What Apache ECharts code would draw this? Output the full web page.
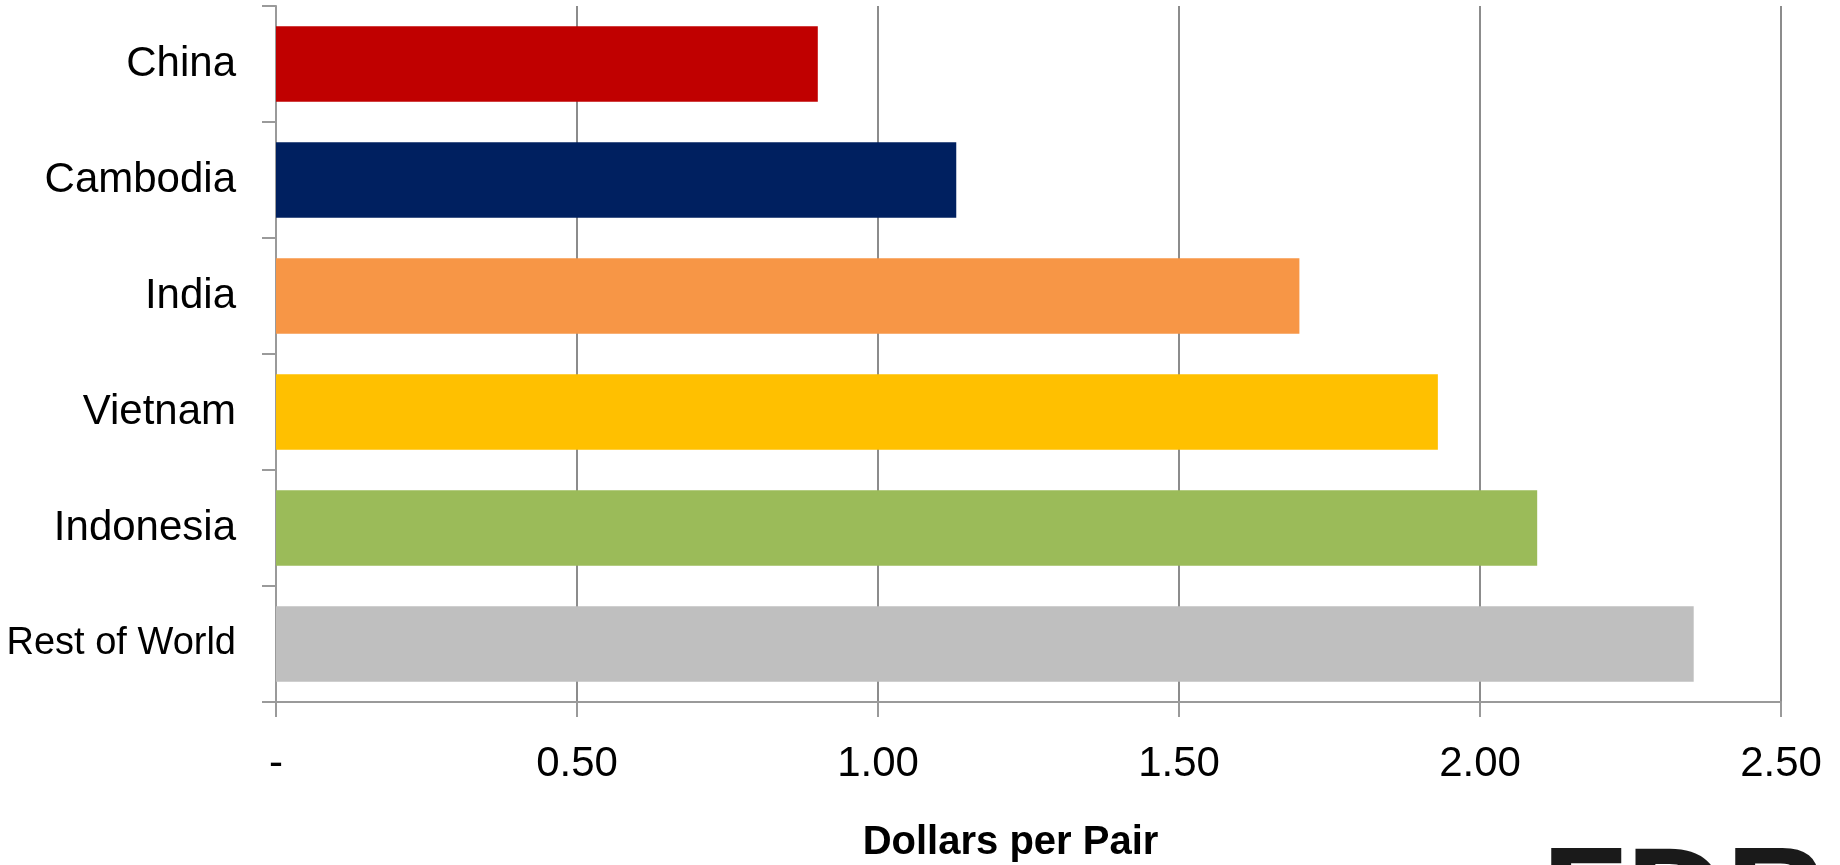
<!DOCTYPE html>
<html>
<head>
<meta charset="utf-8">
<title>Dollars per Pair</title>
<script src="https://cdn.jsdelivr.net/npm/echarts@6/dist/echarts.min.js"></script>
<style>
  html, body { margin: 0; padding: 0; background: #fff; }
  #chart { width: 1840px; height: 865px; }
</style>
</head>
<body>
<div id="chart"></div>
<script>
// data
const countries = ['China', 'Cambodia', 'India', 'Vietnam', 'Indonesia', 'Rest of World']
const dollarsPerPair = [0.90, 1.13, 1.70, 1.93, 2.095, 2.355]
const xTicks = [0, 0.5, 1.0, 1.5, 2.0, 2.5]

const barColors = ['#C00000', '#002060', '#F79646', '#FFC000', '#9BBB59', '#BFBFBF']
const FONT = '"Liberation Sans Narrow", "Liberation Sans", Arial, sans-serif'

const chart = echarts.init(document.getElementById('chart'))

// the long label is squeezed a bit so it stays on the canvas
const yLabels = countries.map(c => c.length > 10 ? { value: c, textStyle: { fontSize: 38 } } : c)

chart.setOption({
  animation: false,
  grid: { left: 276, right: 59, top: 6, bottom: 163, outerBoundsMode: 'none', containLabel: false },
  xAxis: {
    type: 'value',
    min: xTicks[0],
    max: xTicks[xTicks.length - 1],
    interval: xTicks[1] - xTicks[0],
    name: 'Dollars per Pair',
    nameLocation: 'middle',
    nameGap: 121,
    nameTextStyle: {
      fontFamily: FONT, fontSize: 40, fontWeight: 'bold', color: '#000',
      padding: [0, 36, 0, 0]
    },
    axisLine: { show: true, lineStyle: { color: '#9a9a9a', width: 2 } },
    axisTick: { show: true, length: 15, lineStyle: { color: '#9a9a9a', width: 2 } },
    splitLine: { show: true, lineStyle: { color: '#8c8c8c', width: 2 } },
    axisLabel: {
      margin: 41,
      fontFamily: FONT, fontSize: 42, color: '#000',
      formatter: v => (v === 0 ? '-' : v.toFixed(2))
    }
  },
  yAxis: {
    type: 'category',
    data: yLabels,
    inverse: true,
    axisLine: { show: true, lineStyle: { color: '#9a9a9a', width: 2 } },
    axisTick: { show: true, length: 14, lineStyle: { color: '#9a9a9a', width: 2 } },
    axisLabel: {
      margin: 40,
      fontFamily: FONT, fontSize: 42, color: '#000'
    }
  },
  series: [{
    type: 'bar',
    barCategoryGap: '35%',
    data: dollarsPerPair.map((v, i) => ({ value: v, itemStyle: { color: barColors[i] } }))
  }],
  // logo peeking in at the bottom right corner
  graphic: [{
    type: 'text',
    left: 1542,
    top: 836,
    silent: true,
    style: {
      text: 'FDRA',
      fontFamily: '"Liberation Sans", Arial, sans-serif',
      fontSize: 138,
      fontWeight: 'bold',
      fill: '#1a1a1a'
    }
  }]
})
</script>
</body>
</html>
